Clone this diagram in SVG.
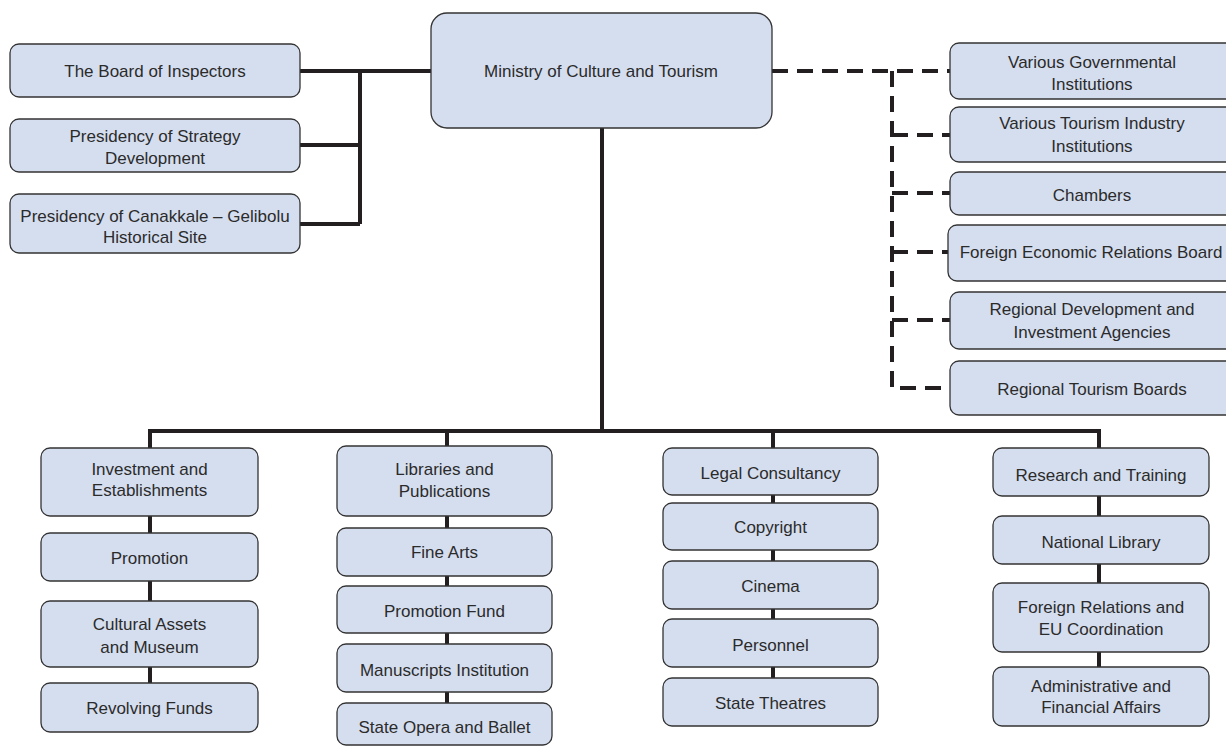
<svg xmlns="http://www.w3.org/2000/svg" width="1226" height="747" viewBox="0 0 1226 747">
<style>
.box{fill:#d5deef;stroke:#333;stroke-width:1.3}
.t{font-family:"Liberation Sans",Arial,sans-serif;font-size:17px;fill:#2b2b2b;text-anchor:middle}
.s{fill:none;stroke:#231f20;stroke-width:4}
.d{fill:none;stroke:#231f20;stroke-width:4;stroke-dasharray:16 9}
</style>
<rect width="1226" height="747" fill="#fff"/>
<g id="connectors">
<path class="s" d="M300 71H431M360 71V224M300 145H360M300 224H360"/>
<path class="s" d="M602 128V431M150 448V431H1099V448"/>
<path class="s" d="M150 448V683M447 431V703M773 431V678M1099 448V667"/>
<path class="d" d="M772 71H950"/>
<path class="d" d="M892 71V388H950"/>
<path class="d" d="M892 135H950M892 193H950M892 252H948M892 320H950"/>
</g>
<g id="ministry"><rect class="box" x="431" y="13" width="341" height="115" rx="16"/><text class="t" x="601" y="77">Ministry of Culture and Tourism</text></g>
<g id="board"><rect class="box" x="10" y="44" width="290" height="53" rx="9"/><text class="t" x="155" y="77">The Board of Inspectors</text></g>
<g id="strategy"><rect class="box" x="10" y="119" width="290" height="53" rx="9"/><text class="t" x="155" y="142">Presidency of Strategy</text><text class="t" x="155" y="164">Development</text></g>
<g id="canakkale"><rect class="box" x="10" y="194" width="290" height="59" rx="9"/><text class="t" x="155" y="222">Presidency of Canakkale – Gelibolu</text><text class="t" x="155" y="243">Historical Site</text></g>
<g id="govinst"><rect class="box" x="950" y="43" width="300" height="56" rx="9"/><text class="t" x="1092" y="68">Various Governmental</text><text class="t" x="1092" y="90">Institutions</text></g>
<g id="tourinst"><rect class="box" x="950" y="107" width="300" height="55" rx="9"/><text class="t" x="1092" y="129">Various Tourism Industry</text><text class="t" x="1092" y="152">Institutions</text></g>
<g id="chambers"><rect class="box" x="950" y="172" width="300" height="43" rx="9"/><text class="t" x="1092" y="201">Chambers</text></g>
<g id="foreignecon"><rect class="box" x="948" y="225" width="300" height="56" rx="9"/><text class="t" x="1091" y="258">Foreign Economic Relations Board</text></g>
<g id="regdev"><rect class="box" x="950" y="292" width="300" height="57" rx="9"/><text class="t" x="1092" y="315">Regional Development and</text><text class="t" x="1092" y="338">Investment Agencies</text></g>
<g id="regtour"><rect class="box" x="950" y="361" width="300" height="54" rx="9"/><text class="t" x="1092" y="395">Regional Tourism Boards</text></g>
<g id="investment"><rect class="box" x="41" y="448" width="217" height="68" rx="9"/><text class="t" x="149.5" y="475">Investment and</text><text class="t" x="149.5" y="496">Establishments</text></g>
<g id="promotion"><rect class="box" x="41" y="533" width="217" height="48" rx="9"/><text class="t" x="149.5" y="564">Promotion</text></g>
<g id="cultural"><rect class="box" x="41" y="601" width="217" height="66" rx="9"/><text class="t" x="149.5" y="630">Cultural Assets</text><text class="t" x="149.5" y="653">and Museum</text></g>
<g id="revolving"><rect class="box" x="41" y="683" width="217" height="49" rx="9"/><text class="t" x="149.5" y="714">Revolving Funds</text></g>
<g id="libraries"><rect class="box" x="337" y="446" width="215" height="70" rx="9"/><text class="t" x="444.5" y="475">Libraries and</text><text class="t" x="444.5" y="497">Publications</text></g>
<g id="finearts"><rect class="box" x="337" y="528" width="215" height="48" rx="9"/><text class="t" x="444.5" y="558">Fine Arts</text></g>
<g id="promfund"><rect class="box" x="337" y="586" width="215" height="47" rx="9"/><text class="t" x="444.5" y="617">Promotion Fund</text></g>
<g id="manuscripts"><rect class="box" x="337" y="644" width="215" height="48" rx="9"/><text class="t" x="444.5" y="676">Manuscripts Institution</text></g>
<g id="opera"><rect class="box" x="337" y="703" width="215" height="42" rx="9"/><text class="t" x="444.5" y="733">State Opera and Ballet</text></g>
<g id="legal"><rect class="box" x="663" y="448" width="215" height="47" rx="9"/><text class="t" x="770.5" y="479">Legal Consultancy</text></g>
<g id="copyright"><rect class="box" x="663" y="503" width="215" height="47" rx="9"/><text class="t" x="770.5" y="533">Copyright</text></g>
<g id="cinema"><rect class="box" x="663" y="561" width="215" height="48" rx="9"/><text class="t" x="770.5" y="592">Cinema</text></g>
<g id="personnel"><rect class="box" x="663" y="619" width="215" height="48" rx="9"/><text class="t" x="770.5" y="651">Personnel</text></g>
<g id="theatres"><rect class="box" x="663" y="678" width="215" height="48" rx="9"/><text class="t" x="770.5" y="709">State Theatres</text></g>
<g id="research"><rect class="box" x="993" y="448" width="216" height="48" rx="9"/><text class="t" x="1101" y="481">Research and Training</text></g>
<g id="natlib"><rect class="box" x="993" y="516" width="216" height="48" rx="9"/><text class="t" x="1101" y="548">National Library</text></g>
<g id="foreignrel"><rect class="box" x="993" y="583" width="216" height="69" rx="9"/><text class="t" x="1101" y="613">Foreign Relations and</text><text class="t" x="1101" y="635">EU Coordination</text></g>
<g id="admin"><rect class="box" x="993" y="667" width="216" height="59" rx="9"/><text class="t" x="1101" y="692">Administrative and</text><text class="t" x="1101" y="713">Financial Affairs</text></g>
</svg>
